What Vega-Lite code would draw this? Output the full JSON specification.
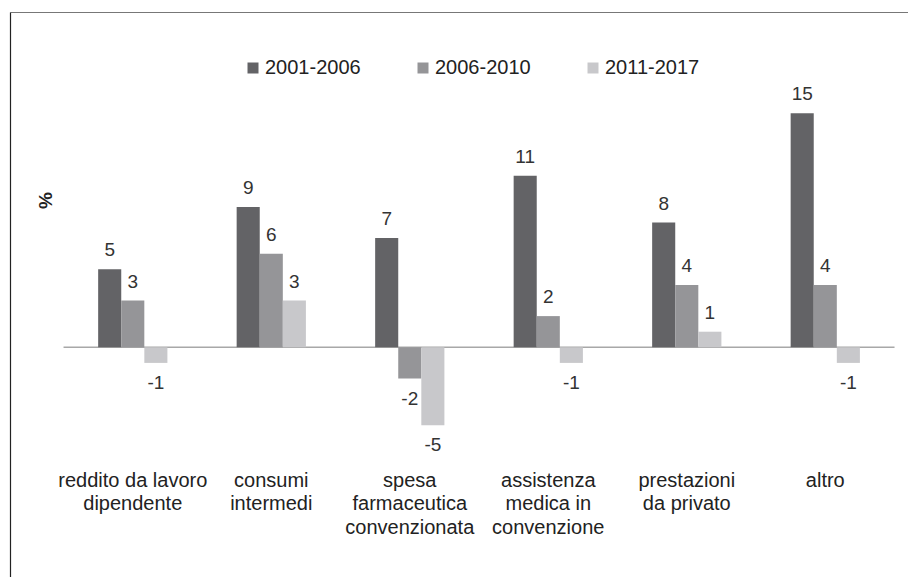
{
  "$schema": "https://vega.github.io/schema/vega-lite/v6.json",
  "width": 898,
  "height": 565,
  "autosize": "none",
  "padding": {"left": 10, "top": 12, "right": 0, "bottom": 0},
  "background": "white",
  "config": {
    "view": {"stroke": null},
    "font": "Liberation Sans, Arial, sans-serif"
  },
  "datasets": {
    "bars": [
      {"categoria": "reddito da lavoro|dipendente", "periodo": "2001-2006", "valore": 5},
      {"categoria": "reddito da lavoro|dipendente", "periodo": "2006-2010", "valore": 3},
      {"categoria": "reddito da lavoro|dipendente", "periodo": "2011-2017", "valore": -1},
      {"categoria": "consumi|intermedi", "periodo": "2001-2006", "valore": 9},
      {"categoria": "consumi|intermedi", "periodo": "2006-2010", "valore": 6},
      {"categoria": "consumi|intermedi", "periodo": "2011-2017", "valore": 3},
      {"categoria": "spesa|farmaceutica|convenzionata", "periodo": "2001-2006", "valore": 7},
      {"categoria": "spesa|farmaceutica|convenzionata", "periodo": "2006-2010", "valore": -2},
      {"categoria": "spesa|farmaceutica|convenzionata", "periodo": "2011-2017", "valore": -5},
      {"categoria": "assistenza|medica in|convenzione", "periodo": "2001-2006", "valore": 11},
      {"categoria": "assistenza|medica in|convenzione", "periodo": "2006-2010", "valore": 2},
      {"categoria": "assistenza|medica in|convenzione", "periodo": "2011-2017", "valore": -1},
      {"categoria": "prestazioni|da privato", "periodo": "2001-2006", "valore": 8},
      {"categoria": "prestazioni|da privato", "periodo": "2006-2010", "valore": 4},
      {"categoria": "prestazioni|da privato", "periodo": "2011-2017", "valore": 1},
      {"categoria": "altro", "periodo": "2001-2006", "valore": 15},
      {"categoria": "altro", "periodo": "2006-2010", "valore": 4},
      {"categoria": "altro", "periodo": "2011-2017", "valore": -1}
    ],
    "zero": [
      {"da": "reddito da lavoro|dipendente", "a": "altro", "valore": 0}
    ]
  },
  "encoding": {
    "x": {
      "field": "categoria",
      "type": "nominal",
      "axis": null,
      "scale": {
        "domain": ["reddito da lavoro|dipendente", "consumi|intermedi", "spesa|farmaceutica|convenzionata", "assistenza|medica in|convenzione", "prestazioni|da privato", "altro"],
        "paddingInner": 0.5,
        "paddingOuter": 0.4919,
        "align": 0.647
      }
    },
    "y": {
      "field": "valore",
      "type": "quantitative",
      "scale": {"domain": [-14.724, 21.494], "nice": false, "zero": false},
      "axis": {
        "orient": "left", "labels": false, "ticks": false, "grid": false,
        "domain": true, "domainColor": "#222222", "domainWidth": 1.2,
        "title": "%", "titleFontSize": 19, "titleFontWeight": "bold", "titleColor": "#222222",
        "titleAngle": -90, "titleX": 35, "titleY": 188, "titleAlign": "center", "titleBaseline": "middle"
      }
    }
  },
  "layer": [
    {
      "data": {"name": "zero"},
      "mark": {"type": "rule", "color": "#a8a8a8", "strokeWidth": 1.5},
      "encoding": {
        "x": {
          "field": "da",
          "type": "nominal",
          "bandPosition": -0.5,
          "axis": {"orient": "top", "labels": false, "ticks": false, "domain": true, "domainColor": "#777777", "domainWidth": 1.2, "title": null, "grid": false}
        },
        "x2": {"field": "a", "bandPosition": 1.5}
      }
    },
    {
      "data": {"name": "bars"},
      "mark": {"type": "bar"},
      "encoding": {
        "x": {
          "field": "categoria",
          "type": "nominal",
          "axis": {
            "orient": "bottom", "title": null, "domain": false, "ticks": false, "grid": false,
            "labelAngle": 0, "labelExpr": "split(datum.label, '|')",
            "labelFontSize": 20, "labelColor": "#222222", "labelLineHeight": 23.5,
            "labelBaseline": "top", "labelPadding": 0, "offset": -107, "labelLimit": 300
          }
        },
        "xOffset": {
          "field": "periodo",
          "type": "nominal",
          "scale": {"domain": ["2001-2006", "2006-2010", "2011-2017"], "paddingInner": 0, "paddingOuter": 0}
        },
        "color": {
          "field": "periodo",
          "type": "nominal",
          "scale": {"domain": ["2001-2006", "2006-2010", "2011-2017"], "range": ["#636366", "#959598", "#c8c8cb"]},
          "legend": {
            "orient": "none", "legendX": 233, "legendY": 46, "direction": "horizontal",
            "title": null, "symbolType": "square", "symbolSize": 121, "symbolStrokeWidth": 0,
            "labelFontSize": 20, "labelColor": "#222222", "labelOffset": 2, "columnPadding": 52
          }
        }
      }
    },
    {
      "data": {"name": "bars"},
      "transform": [{"filter": "datum.valore >= 0"}],
      "mark": {"type": "text", "fontSize": 19, "color": "#333333", "baseline": "middle", "dy": -19},
      "encoding": {
        "xOffset": {"field": "periodo", "type": "nominal"},
        "text": {"field": "valore", "type": "nominal"}
      }
    },
    {
      "data": {"name": "bars"},
      "transform": [{"filter": "datum.valore < 0"}],
      "mark": {"type": "text", "fontSize": 19, "color": "#333333", "baseline": "middle", "dy": 20},
      "encoding": {
        "xOffset": {"field": "periodo", "type": "nominal"},
        "text": {"field": "valore", "type": "nominal"}
      }
    }
  ]
}
